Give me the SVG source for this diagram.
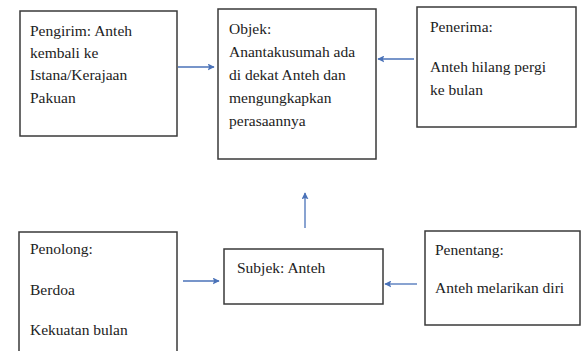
<svg xmlns="http://www.w3.org/2000/svg" width="581" height="351" viewBox="0 0 581 351">
<style>
.box{fill:#fff;stroke:#3a3a3a;stroke-width:1.5}
.t{font-family:'Liberation Serif','Times New Roman','DejaVu Serif',serif;font-size:15.5px;fill:#222}
.c{stroke:#4a72b8;stroke-width:1.3;fill:none;marker-end:url(#ah)}
</style>
<defs>
<marker id="ah" viewBox="0 0 10 10" refX="9" refY="5" markerWidth="7" markerHeight="7" markerUnits="userSpaceOnUse" orient="auto">
<path d="M0,0 L10,5 L0,10 L2,5 z" fill="#4a72b8"/>
</marker>
</defs>
<rect width="581" height="351" fill="#fff"/>
<g id="pengirim">
<rect class="box" x="20" y="11" width="157" height="125"/>
<text class="t" x="30" y="36">Pengirim: Anteh</text>
<text class="t" x="30" y="58">kembali ke</text>
<text class="t" x="30" y="80">Istana/Kerajaan</text>
<text class="t" x="30" y="103">Pakuan</text>
</g>
<g id="objek">
<rect class="box" x="218" y="9" width="158" height="150"/>
<text class="t" x="229" y="34">Objek:</text>
<text class="t" x="229" y="57">Anantakusumah ada</text>
<text class="t" x="229" y="80">di dekat Anteh dan</text>
<text class="t" x="229" y="103">mengungkapkan</text>
<text class="t" x="229" y="126">perasaannya</text>
</g>
<g id="penerima">
<rect class="box" x="417" y="7" width="159" height="120"/>
<text class="t" x="430" y="32">Penerima:</text>
<text class="t" x="430" y="72">Anteh hilang pergi</text>
<text class="t" x="430" y="95">ke bulan</text>
</g>
<g id="penolong">
<rect class="box" x="19" y="232" width="158" height="125"/>
<text class="t" x="30" y="254">Penolong:</text>
<text class="t" x="30" y="295">Berdoa</text>
<text class="t" x="30" y="335">Kekuatan bulan</text>
</g>
<g id="subjek">
<rect class="box" x="224" y="249" width="159" height="55"/>
<text class="t" x="237" y="273">Subjek: Anteh</text>
</g>
<g id="penentang">
<rect class="box" x="425" y="231" width="155" height="94"/>
<text class="t" x="435" y="255">Penentang:</text>
<text class="t" x="435" y="293">Anteh melarikan diri</text>
</g>
<g id="connectors">
<line class="c" x1="178" y1="67" x2="214" y2="67"/>
<line class="c" x1="414" y1="59" x2="378" y2="59"/>
<line class="c" x1="305" y1="228" x2="305" y2="193"/>
<line class="c" x1="183" y1="281" x2="219" y2="281"/>
<line class="c" x1="417" y1="284" x2="385" y2="284"/>
</g>
</svg>
